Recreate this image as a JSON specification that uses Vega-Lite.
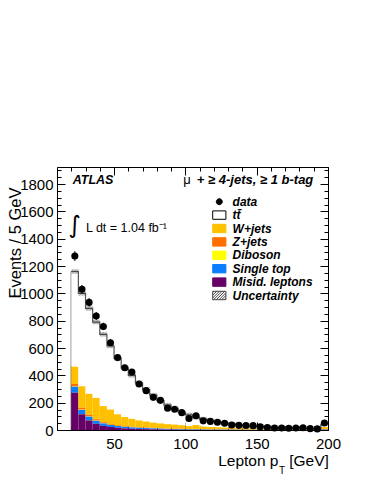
{
 "$schema": "https://vega.github.io/schema/vega-lite/v6.json",
 "width": 271, "height": 263,
 "autosize": {"type": "none"},
 "padding": {"left": 57, "top": 167, "right": 46, "bottom": 54},
 "background": "white",
 "datasets": {
  "bins": [
   {"lo":20,"hi":25,"mid":22.5,"data":1273,"err":35.7,"mc":1160,"tt":697,"W":126,"Z":18,"dib":2,"st":44,"mis":273},
   {"lo":25,"hi":30,"mid":27.5,"data":1030,"err":32.1,"mc":1000,"tt":680,"W":157,"Z":14,"dib":2,"st":32,"mis":115},
   {"lo":30,"hi":35,"mid":32.5,"data":934,"err":30.6,"mc":890,"tt":625,"W":153,"Z":12,"dib":2,"st":28,"mis":70},
   {"lo":35,"hi":40,"mid":37.5,"data":834,"err":28.9,"mc":790,"tt":555,"W":156,"Z":10,"dib":2,"st":22,"mis":45},
   {"lo":40,"hi":45,"mid":42.5,"data":758,"err":27.5,"mc":700,"tt":525,"W":118,"Z":8,"dib":1,"st":18,"mis":30},
   {"lo":45,"hi":50,"mid":47.5,"data":639,"err":25.3,"mc":615,"tt":465,"W":105,"Z":7,"dib":1,"st":15,"mis":22},
   {"lo":50,"hi":55,"mid":52.5,"data":530,"err":23.0,"mc":525,"tt":410,"W":79,"Z":6,"dib":1,"st":13,"mis":16},
   {"lo":55,"hi":60,"mid":57.5,"data":456,"err":21.4,"mc":455,"tt":360,"W":66,"Z":5,"dib":1,"st":11,"mis":12},
   {"lo":60,"hi":65,"mid":62.5,"data":424,"err":20.6,"mc":400,"tt":318,"W":58,"Z":4,"dib":1,"st":10,"mis":9},
   {"lo":65,"hi":70,"mid":67.5,"data":337,"err":18.4,"mc":345,"tt":275,"W":49,"Z":4,"dib":1,"st":9,"mis":7},
   {"lo":70,"hi":75,"mid":72.5,"data":288,"err":17.0,"mc":295,"tt":233,"W":44,"Z":3,"dib":1,"st":8,"mis":6},
   {"lo":75,"hi":80,"mid":77.5,"data":239,"err":15.5,"mc":255,"tt":201,"W":38,"Z":3,"dib":1,"st":7,"mis":5},
   {"lo":80,"hi":85,"mid":82.5,"data":217,"err":14.7,"mc":215,"tt":167,"W":35,"Z":2,"dib":1,"st":6,"mis":4},
   {"lo":85,"hi":90,"mid":87.5,"data":160,"err":12.6,"mc":182,"tt":139,"W":32,"Z":2,"dib":1,"st":5,"mis":3},
   {"lo":90,"hi":95,"mid":92.5,"data":152,"err":12.3,"mc":155,"tt":115.5,"W":30,"Z":2,"dib":0.5,"st":4,"mis":3},
   {"lo":95,"hi":100,"mid":97.5,"data":127,"err":11.3,"mc":130,"tt":94.5,"W":27,"Z":2,"dib":0.5,"st":4,"mis":2},
   {"lo":100,"hi":105,"mid":102.5,"data":84,"err":9.2,"mc":110,"tt":81.5,"W":22,"Z":1,"dib":0.5,"st":3,"mis":2},
   {"lo":105,"hi":110,"mid":107.5,"data":104,"err":10.2,"mc":93,"tt":56.5,"W":30,"Z":1,"dib":0.5,"st":3,"mis":2},
   {"lo":110,"hi":115,"mid":112.5,"data":67,"err":8.2,"mc":80,"tt":54.5,"W":20,"Z":1,"dib":0.5,"st":3,"mis":1},
   {"lo":115,"hi":120,"mid":117.5,"data":63,"err":7.9,"mc":68,"tt":45.5,"W":18,"Z":1,"dib":0.5,"st":2,"mis":1},
   {"lo":120,"hi":125,"mid":122.5,"data":57,"err":7.5,"mc":58,"tt":37.7,"W":16,"Z":1,"dib":0.3,"st":2,"mis":1},
   {"lo":125,"hi":130,"mid":127.5,"data":50,"err":7.1,"mc":50,"tt":31.7,"W":14,"Z":1,"dib":0.3,"st":2,"mis":1},
   {"lo":130,"hi":135,"mid":132.5,"data":36,"err":6.0,"mc":43,"tt":25.7,"W":13,"Z":1,"dib":0.3,"st":2,"mis":1},
   {"lo":135,"hi":140,"mid":137.5,"data":34,"err":5.8,"mc":37,"tt":22.2,"W":12,"Z":0.5,"dib":0.3,"st":1,"mis":1},
   {"lo":140,"hi":145,"mid":142.5,"data":33,"err":5.7,"mc":32,"tt":18.2,"W":11,"Z":0.5,"dib":0.3,"st":1,"mis":1},
   {"lo":145,"hi":150,"mid":147.5,"data":32,"err":5.7,"mc":28,"tt":15.8,"W":10,"Z":0.5,"dib":0.2,"st":1,"mis":0.5},
   {"lo":150,"hi":155,"mid":152.5,"data":24,"err":4.9,"mc":24,"tt":12.8,"W":9,"Z":0.5,"dib":0.2,"st":1,"mis":0.5},
   {"lo":155,"hi":160,"mid":157.5,"data":18,"err":4.2,"mc":21,"tt":10.8,"W":8,"Z":0.5,"dib":0.2,"st":1,"mis":0.5},
   {"lo":160,"hi":165,"mid":162.5,"data":15,"err":3.9,"mc":18,"tt":8.8,"W":7,"Z":0.5,"dib":0.2,"st":1,"mis":0.5},
   {"lo":165,"hi":170,"mid":167.5,"data":14,"err":3.7,"mc":16,"tt":6.8,"W":7,"Z":0.5,"dib":0.2,"st":1,"mis":0.5},
   {"lo":170,"hi":175,"mid":172.5,"data":13,"err":3.6,"mc":14,"tt":5.8,"W":6,"Z":0.5,"dib":0.2,"st":1,"mis":0.5},
   {"lo":175,"hi":180,"mid":177.5,"data":15,"err":3.9,"mc":12,"tt":4.3,"W":6,"Z":0.5,"dib":0.2,"st":0.5,"mis":0.5},
   {"lo":180,"hi":185,"mid":182.5,"data":16,"err":4.0,"mc":11,"tt":4.3,"W":5,"Z":0.5,"dib":0.2,"st":0.5,"mis":0.5},
   {"lo":185,"hi":190,"mid":187.5,"data":10,"err":3.2,"mc":10,"tt":3.3,"W":5,"Z":0.5,"dib":0.2,"st":0.5,"mis":0.5},
   {"lo":190,"hi":195,"mid":192.5,"data":8,"err":2.8,"mc":9,"tt":2.3,"W":5,"Z":0.5,"dib":0.2,"st":0.5,"mis":0.5},
   {"lo":195,"hi":200,"mid":197.5,"data":51,"err":7.1,"mc":45,"tt":23.5,"W":15,"Z":1,"dib":0.5,"st":3,"mis":2}
  ]
 },
 "data": {"name": "bins"},
 "config": {
  "view": {"stroke": "black", "strokeWidth": 1},
  "axis": {"domain": false, "grid": false, "tickColor": "black", "tickWidth": 1, "labelColor": "black", "labelFont": "Liberation Sans", "labelFontSize": 15, "titleFont": "Liberation Sans", "titleFontSize": 17, "titleFontWeight": "normal", "titleColor": "black"},
  "text": {"font": "Liberation Sans", "color": "black"}
 },
 "resolve": {"axis": {"x": "independent", "y": "independent"}},
 "layer": [
  {
   "transform": [{"filter": "datum.lo === 20"}],
   "mark": {"type": "rule", "color": "#555555", "strokeWidth": 1.2},
   "encoding": {
    "x": {"field": "lo", "type": "quantitative", "scale": {"domain": [10, 200], "nice": false, "zero": false}, "axis": null},
    "y": {"field": "mc", "type": "quantitative", "scale": {"domain": [0, 1925], "nice": false, "zero": false}, "axis": null},
    "y2": {"datum": 0}
   }
  },
  {
   "transform": [
    {"fold": ["tt", "W", "Z", "dib", "st", "mis"], "as": ["key", "n"]},
    {"lookup": "key", "from": {"data": {"values": [
      {"key": "tt", "label": "tt\u0304", "rank": 6},
      {"key": "W", "label": "W+jets", "rank": 5},
      {"key": "Z", "label": "Z+jets", "rank": 4},
      {"key": "dib", "label": "Diboson", "rank": 3},
      {"key": "st", "label": "Single top", "rank": 2},
      {"key": "mis", "label": "Misid. leptons", "rank": 1}
     ]}, "key": "key", "fields": ["label", "rank"]}},
    {"stack": "n", "groupby": ["lo"], "sort": [{"field": "rank", "order": "ascending"}], "as": ["y0", "y1"]}
   ],
   "mark": {"type": "bar"},
   "encoding": {
    "x": {"field": "lo", "type": "quantitative", "scale": {"domain": [10, 200], "nice": false, "zero": false},
     "axis": {"orient": "bottom", "values": [50, 100, 150, 200], "tickSize": -8, "labelPadding": 14, "labelFlush": false, "labelOverlap": false, "format": "d",
      "title": "Lepton p", "titleFontSize": 15.5, "titleX": 221, "titleY": 35.7, "titleAlign": "right", "titleBaseline": "alphabetic"}},
    "x2": {"field": "hi"},
    "y": {"field": "y0", "type": "quantitative", "scale": {"domain": [0, 1925], "nice": false, "zero": false},
     "axis": {"orient": "left", "values": [0, 200, 400, 600, 800, 1000, 1200, 1400, 1600, 1800], "tickSize": -8, "labelPadding": 12, "labelOverlap": false, "format": "d",
      "title": "Events / 5 GeV", "titleFontSize": 16.5, "titleX": -37, "titleY": 20, "titleAngle": -90, "titleAlign": "right", "titleBaseline": "alphabetic"}},
    "y2": {"field": "y1"},
    "fill": {"field": "label", "type": "nominal",
     "scale": {"domain": ["tt\u0304", "W+jets", "Z+jets", "Diboson", "Single top", "Misid. leptons"],
      "range": ["#ffffff", "#FFC000", "#FF7000", "#FFFF00", "#0A7EFF", "#660066"]},
     "legend": null}
   }
  },
  {
   "mark": {"type": "line", "interpolate": "step-after", "color": "#555555", "strokeWidth": 1.2},
   "encoding": {
    "x": {"field": "lo", "type": "quantitative", "scale": {"domain": [10, 200], "nice": false, "zero": false},
     "axis": {"orient": "bottom", "values": [10, 20, 30, 40, 50, 60, 70, 80, 90, 100, 110, 120, 130, 140, 150, 160, 170, 180, 190, 200], "tickSize": -4, "labels": false,
      "title": "[GeV]", "titleFontSize": 15.5, "titleX": 271.3, "titleY": 35.7, "titleAlign": "right", "titleBaseline": "alphabetic"}},
    "y": {"field": "mc", "type": "quantitative", "scale": {"domain": [0, 1925], "nice": false, "zero": false},
     "axis": {"orient": "left", "values": [0, 50, 100, 150, 200, 250, 300, 350, 400, 450, 500, 550, 600, 650, 700, 750, 800, 850, 900, 950, 1000, 1050, 1100, 1150, 1200, 1250, 1300, 1350, 1400, 1450, 1500, 1550, 1600, 1650, 1700, 1750, 1800, 1850, 1900], "tickSize": -4, "labels": false, "title": null}}
   }
  },
  {
   "transform": [{"filter": "datum.lo === 195"}],
   "mark": {"type": "rule", "color": "#555555", "strokeWidth": 1.2},
   "encoding": {
    "x": {"field": "lo", "type": "quantitative", "scale": {"domain": [10, 200], "nice": false, "zero": false}, "axis": null},
    "x2": {"field": "hi"},
    "y": {"field": "mc", "type": "quantitative", "scale": {"domain": [0, 1925], "nice": false, "zero": false}, "axis": null}
   }
  },
  {
   "mark": {"type": "point", "shape": "M-1,-0.28L-0.66,-0.62M-1,0.12L-0.26,-0.62M-1,0.52L0.14,-0.62M-0.7,0.62L0.54,-0.62M-0.3,0.62L0.94,-0.62M0.1,0.62L1,-0.28M0.5,0.62L1,0.12M0.9,0.62L1,0.52", "size": 51, "filled": false, "stroke": "#333333", "strokeWidth": 0.5, "opacity": 1},
   "encoding": {
    "x": {"field": "mid", "type": "quantitative", "scale": {"domain": [10, 200], "nice": false, "zero": false},
     "axis": {"orient": "top", "values": [50, 100, 150, 200], "tickSize": -8, "labels": false,
      "title": "T", "titleFontSize": 10, "titleX": 221.5, "titleY": 306.3, "titleAlign": "left", "titleBaseline": "alphabetic"}},
    "y": {"field": "mc", "type": "quantitative", "scale": {"domain": [0, 1925], "nice": false, "zero": false},
     "axis": {"orient": "right", "values": [0, 200, 400, 600, 800, 1000, 1200, 1400, 1600, 1800], "tickSize": -8, "labels": false, "title": null}}
   }
  },
  {
   "mark": {"type": "errorbar", "ticks": false, "color": "black", "thickness": 1},
   "encoding": {
    "x": {"field": "mid", "type": "quantitative", "scale": {"domain": [10, 200], "nice": false, "zero": false}, "axis": null},
    "y": {"field": "data", "type": "quantitative", "scale": {"domain": [0, 1925], "nice": false, "zero": false}, "axis": null},
    "yError": {"field": "err"}
   }
  },
  {
   "mark": {"type": "point", "shape": "circle", "filled": true, "size": 50, "color": "black", "opacity": 1},
   "encoding": {
    "x": {"field": "mid", "type": "quantitative", "scale": {"domain": [10, 200], "nice": false, "zero": false},
     "axis": {"orient": "top", "values": [10, 20, 30, 40, 50, 60, 70, 80, 90, 100, 110, 120, 130, 140, 150, 160, 170, 180, 190, 200], "tickSize": -4, "labels": false, "title": null}},
    "y": {"field": "data", "type": "quantitative", "scale": {"domain": [0, 1925], "nice": false, "zero": false},
     "axis": {"orient": "right", "values": [0, 50, 100, 150, 200, 250, 300, 350, 400, 450, 500, 550, 600, 650, 700, 750, 800, 850, 900, 950, 1000, 1050, 1100, 1150, 1200, 1250, 1300, 1350, 1400, 1450, 1500, 1550, 1600, 1650, 1700, 1750, 1800, 1850, 1900], "tickSize": -4, "labels": false, "title": null}}
   }
  },
  {
   "data": {"values": [{"t": "ATLAS"}]},
   "mark": {"type": "text", "font": "Liberation Sans", "fontSize": 12.5, "fontStyle": "italic", "fontWeight": "bold", "align": "left", "baseline": "alphabetic"},
   "encoding": {
    "x": {"datum": 21, "type": "quantitative", "scale": {"domain": [10, 200], "nice": false, "zero": false}, "axis": null},
    "y": {"datum": 1798, "type": "quantitative", "scale": {"domain": [0, 1925], "nice": false, "zero": false}, "axis": null},
    "text": {"field": "t"}
   }
  },
  {
   "data": {"values": [{"t": "\u03bc"}]},
   "mark": {"type": "text", "font": "Liberation Sans", "fontSize": 13, "align": "left", "baseline": "alphabetic"},
   "encoding": {
    "x": {"datum": 98.6, "type": "quantitative", "scale": {"domain": [10, 200], "nice": false, "zero": false}, "axis": null},
    "y": {"datum": 1798, "type": "quantitative", "scale": {"domain": [0, 1925], "nice": false, "zero": false}, "axis": null},
    "text": {"field": "t"}
   }
  },
  {
   "data": {"values": [{"t": "+ \u2265 4-jets, \u2265 1 b-tag"}]},
   "mark": {"type": "text", "font": "Liberation Sans", "fontSize": 13, "fontStyle": "italic", "fontWeight": "bold", "align": "right", "baseline": "alphabetic"},
   "encoding": {
    "x": {"datum": 189.7, "type": "quantitative", "scale": {"domain": [10, 200], "nice": false, "zero": false}, "axis": null},
    "y": {"datum": 1798, "type": "quantitative", "scale": {"domain": [0, 1925], "nice": false, "zero": false}, "axis": null},
    "text": {"field": "t"}
   }
  },
  {
   "data": {"values": [{"t": "\u222b"}]},
   "mark": {"type": "text", "font": "DejaVu Sans", "fontSize": 24, "align": "center", "baseline": "middle"},
   "encoding": {
    "x": {"datum": 22.4, "type": "quantitative", "scale": {"domain": [10, 200], "nice": false, "zero": false}, "axis": null},
    "y": {"datum": 1493, "type": "quantitative", "scale": {"domain": [0, 1925], "nice": false, "zero": false}, "axis": null},
    "text": {"field": "t"}
   }
  },
  {
   "data": {"values": [{"t": "L dt = 1.04 fb\u207b\u00b9"}]},
   "mark": {"type": "text", "font": "Liberation Sans", "fontSize": 12.5, "align": "left", "baseline": "alphabetic"},
   "encoding": {
    "x": {"datum": 30.3, "type": "quantitative", "scale": {"domain": [10, 200], "nice": false, "zero": false}, "axis": null},
    "y": {"datum": 1451, "type": "quantitative", "scale": {"domain": [0, 1925], "nice": false, "zero": false}, "axis": null},
    "text": {"field": "t"}
   }
  },
  {
   "data": {"values": []},
   "mark": {"type": "point", "filled": true, "opacity": 1},
   "encoding": {
    "color": {"field": "label", "type": "nominal",
     "scale": {"domain": ["data", "tt\u0304", "W+jets", "Z+jets", "Diboson", "Single top", "Misid. leptons", "Uncertainty"],
      "range": ["#000000", "#ffffff", "#FFC000", "#FF7000", "#FFFF00", "#0A7EFF", "#660066", "#ffffff"]},
     "legend": {"title": null, "orient": "none", "legendX": 155.8, "legendY": 28.2, "padding": 0, "rowPadding": 0.4, "symbolSize": 144, "symbolStrokeWidth": 1, "symbolOpacity": 1, "labelFont": "Liberation Sans", "labelFontSize": 12, "labelFontStyle": "italic", "labelFontWeight": "bold", "labelOffset": 6.8, "labelColor": "black", "labelLimit": 200}},
    "shape": {"field": "label", "type": "nominal",
     "scale": {"domain": ["data", "tt\u0304", "W+jets", "Z+jets", "Diboson", "Single top", "Misid. leptons", "Uncertainty"],
      "range": ["M-0.5,0A0.5,0.5 0 1,0 0.5,0A0.5,0.5 0 1,0 -0.5,0Z", "M-1.1,-0.7H1.1V0.7H-1.1Z", "M-1.1,-0.7H1.1V0.7H-1.1Z", "M-1.1,-0.7H1.1V0.7H-1.1Z", "M-1.1,-0.7H1.1V0.7H-1.1Z", "M-1.1,-0.7H1.1V0.7H-1.1Z", "M-1.1,-0.7H1.1V0.7H-1.1Z",
       "M-1.1,-0.7H1.1V0.7H-1.1ZM-1.1,-0.5L-0.9,-0.7M-1.1,-0.05L-0.45,-0.7M-1.1,0.4L0,-0.7M-0.95,0.7L0.45,-0.7M-0.5,0.7L0.9,-0.7M-0.05,0.7L1.1,-0.45M0.4,0.7L1.1,0M0.85,0.7L1.1,0.45"]},
     "legend": {"title": null, "orient": "none", "legendX": 155.8, "legendY": 28.2}},
    "stroke": {"field": "label", "type": "nominal",
     "scale": {"domain": ["data", "tt\u0304", "W+jets", "Z+jets", "Diboson", "Single top", "Misid. leptons", "Uncertainty"],
      "range": ["#000000", "#000000", "#FFC000", "#FF7000", "#FFFF00", "#0A7EFF", "#660066", "#444444"]},
     "legend": {"title": null, "orient": "none", "legendX": 155.8, "legendY": 28.2}}
   }
  }
 ]
}
